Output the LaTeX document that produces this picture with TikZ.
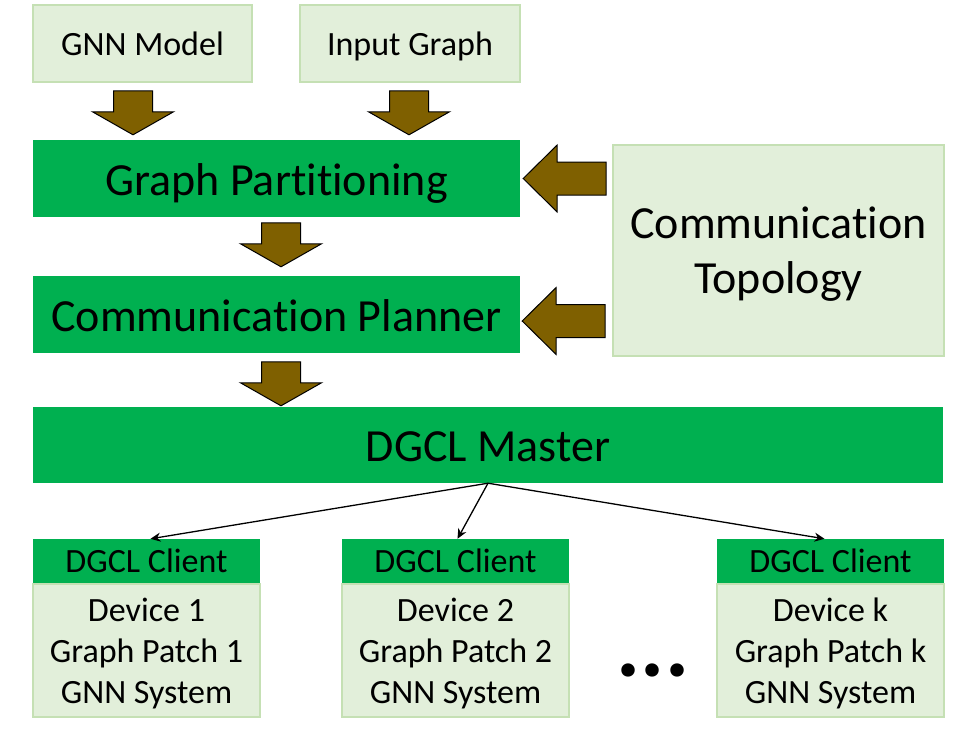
\documentclass[tikz,border=0pt]{standalone}
\usepackage{fontspec}
\setmainfont{Carlito}[Ligatures=NoCommon]
\usetikzlibrary{arrows.meta, positioning}
\definecolor{lightgreen}{HTML}{E2EFDA}
\definecolor{edgegreen}{HTML}{C5E0B4}
\definecolor{darkgreen}{HTML}{00B050}
\definecolor{brownarrow}{HTML}{7F6000}

\begin{document}
\begin{tikzpicture}[x=1pt, y=-1pt,
  inbox/.style={fill=lightgreen, draw=edgegreen, line width=1.5pt, inner sep=0pt, align=center, font=\fontsize{34}{41}\selectfont},
  sourcebox/.style={inbox, minimum height=77pt, text height=30pt, text depth=7pt},
  stagebox/.style={fill=darkgreen, inner sep=0pt, minimum height=77pt, text height=40pt, text depth=7pt, font=\fontsize{46}{55}\selectfont},
  headbox/.style={fill=darkgreen, inner sep=0pt, minimum width=227pt, minimum height=44pt, text height=30pt, text depth=8pt, font=\fontsize{34}{41}\selectfont},
  bodybox/.style={inbox, minimum width=227pt, minimum height=133pt, text depth=0pt},
  link/.style={-{Stealth[length=10pt,width=9pt]}, line width=1.3pt},
  downarrow/.pic={\filldraw[fill=brownarrow, draw=black, line width=1pt] (0,0) -- (-40.5,-23) -- (-19.5,-23) -- (-19.5,-44) -- (19.5,-44) -- (19.5,-23) -- (40.5,-23) -- cycle;},
  leftarrow/.pic={\filldraw[fill=brownarrow, draw=black, line width=1pt] (0,0) -- (34,-33.5) -- (34,-16.5) -- (83,-16.5) -- (83,16.5) -- (34,16.5) -- (34,33.5) -- cycle;}]
\useasboundingbox (0,0) rectangle (967,742);

% inputs
\node[sourcebox, minimum width=219pt] (gnn) at (142.5,43.5) {GNN Model};
\node[sourcebox, minimum width=220pt] (input) at (410,43.5) {Input Graph};

% stages
\node[stagebox, minimum width=487pt] (part) at (276.5,178.5) {Graph Partitioning};
\node[stagebox, minimum width=487pt] (plan) at (276.5,314.5) {Communication Planner};
\node[stagebox, minimum width=910pt, minimum height=76pt] (master) at (488,445) {DGCL Master};
\node[inbox, minimum width=331pt, minimum height=211pt, text depth=0pt, font=\fontsize{46}{55}\selectfont] (topo) at (778.5,250.5) {Communication\\Topology};

% fat arrows
\pic at ([xshift=-9.5pt, yshift=5pt]gnn.south |- part.north) {downarrow};
\pic at ([xshift=-1pt, yshift=5pt]input.south |- part.north) {downarrow};
\pic at ([xshift=4.5pt, yshift=9pt]part.south |- plan.north) {downarrow};
\pic at ([xshift=4.5pt, yshift=1pt]plan.south |- master.north) {downarrow};
\pic at ([xshift=3pt]part.east) {leftarrow};
\pic at ([xshift=2pt, yshift=-6.5pt]plan.east) {leftarrow};

% clients
\foreach \i/\x/\k in {1/146.5/1, 2/455.5/2, 3/830.5/k} {
  \node[headbox] (head\i) at (\x,561) {DGCL Client};
  \node[bodybox, below=0pt of head\i] (body\i) {Device \k\\Graph Patch \k\\GNN System};
}
\draw[link] (master.south) -- ([xshift=4pt]head1.north);
\draw[link] (master.south) -- ([xshift=2pt]head2.north);
\draw[link] (master.south) -- ([xshift=-6pt]head3.north);

\node[anchor=base, font=\fontsize{90}{90}\selectfont\bfseries] (dots) at (653,676) {...};
\end{tikzpicture}
\end{document}
